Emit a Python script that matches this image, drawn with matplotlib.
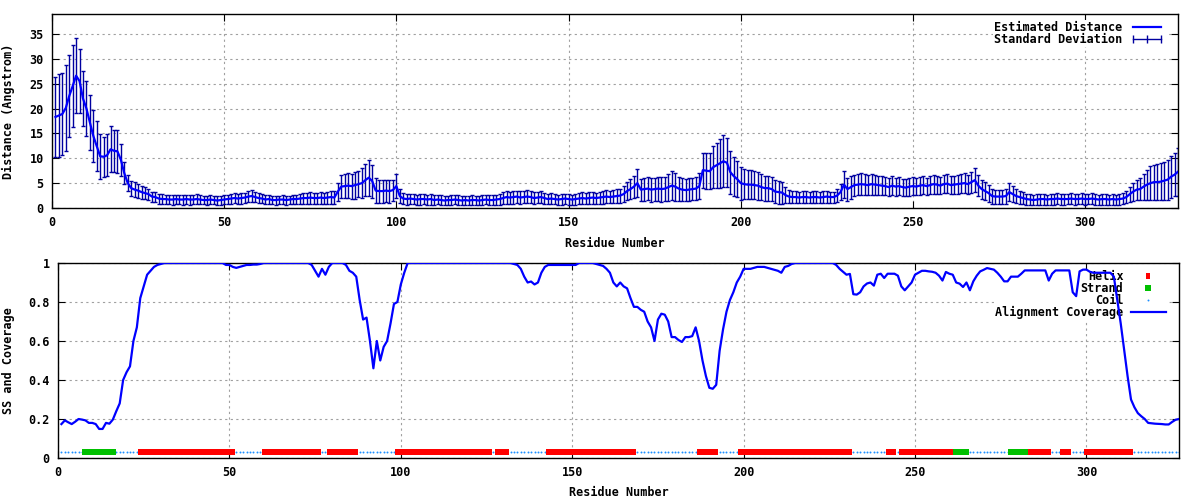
import numpy as np
import matplotlib
matplotlib.use("Agg")
import matplotlib.pyplot as plt
from matplotlib.lines import Line2D
from matplotlib.path import Path

# per-residue values (residues 1..327)
distance = [
    18.3, 18.6, 18.9, 20.1, 22.5, 24.5, 26.6, 25.5, 22.0, 20.0,
    17.2, 14.5, 12.4, 10.4, 10.3, 10.6, 11.8, 11.5, 11.4, 9.7,
    7.0, 5.0, 4.0, 3.7, 3.5, 3.2, 3.0, 2.8, 2.3, 2.2,
    1.9, 1.8, 1.8, 1.7, 1.7, 1.8, 1.7, 1.7, 1.8, 1.7,
    1.7, 1.8, 1.7, 1.6, 1.6, 1.7, 1.6, 1.5, 1.6, 1.7,
    1.8, 1.9, 2.0, 1.9, 2.0, 2.1, 2.3, 2.4, 2.2, 2.0,
    1.9, 1.7, 1.8, 1.6, 1.6, 1.7, 1.7, 1.6, 1.7, 1.8,
    1.8, 1.9, 2.0, 2.0, 2.1, 2.0, 2.0, 2.1, 2.0, 2.1,
    2.2, 2.1, 3.3, 4.3, 4.4, 4.5, 4.4, 4.6, 4.8, 5.0,
    5.6, 6.1, 5.4, 3.5, 3.4, 3.4, 3.5, 3.4, 3.6, 4.4,
    2.4, 1.9, 1.8, 1.9, 1.8, 1.7, 1.8, 1.8, 1.7, 1.8,
    1.6, 1.7, 1.6, 1.5, 1.6, 1.6, 1.7, 1.6, 1.5, 1.6,
    1.5, 1.6, 1.6, 1.5, 1.6, 1.7, 1.6, 1.6, 1.7, 1.8,
    2.0, 2.2, 2.1, 2.2, 2.3, 2.1, 2.2, 2.3, 2.2, 2.0,
    2.1, 2.2, 2.0, 1.8, 1.9, 1.8, 1.7, 1.8, 1.9, 1.8,
    1.7, 1.8, 1.9, 2.0, 1.9, 2.0, 2.1, 2.0, 2.1, 2.2,
    2.3, 2.2, 2.3, 2.4, 2.5, 2.8, 3.4, 3.8, 4.3, 5.0,
    3.7, 3.8, 3.9, 3.7, 3.8, 3.9, 3.8, 3.9, 4.2, 4.5,
    4.3, 3.9, 3.7, 3.6, 3.7, 3.8, 3.9, 4.4, 7.6, 7.5,
    7.4, 8.2, 8.6, 9.0, 9.4, 9.1, 7.2, 6.4, 5.8, 5.0,
    4.8, 4.7, 4.7, 4.6, 4.5, 4.2, 4.0, 4.0, 3.8, 3.3,
    3.2, 3.1, 2.6, 2.3, 2.2, 2.2, 2.1, 2.2, 2.2, 2.1,
    2.2, 2.2, 2.1, 2.2, 2.3, 2.2, 2.2, 2.5, 3.2, 4.7,
    3.8, 4.2, 4.6, 4.7, 4.8, 4.7, 4.6, 4.8, 4.7, 4.6,
    4.5, 4.4, 4.2, 4.5, 4.3, 4.4, 4.2, 4.1, 4.3, 4.4,
    4.3, 4.5, 4.6, 4.4, 4.6, 4.8, 4.7, 4.5, 4.8, 4.9,
    4.6, 4.7, 4.8, 4.9, 5.0, 4.8, 5.2, 5.6, 4.5, 3.8,
    3.4, 3.0, 2.4, 2.3, 2.3, 2.3, 2.4, 3.2, 2.8, 2.4,
    2.2, 2.0, 1.8, 1.7, 1.6, 1.7, 1.8, 1.8, 1.7, 1.8,
    1.8, 1.9, 1.8, 1.8, 1.8, 1.9, 1.8, 1.8, 1.9, 1.8,
    1.8, 1.9, 1.8, 1.7, 1.8, 1.8, 1.7, 1.8, 1.7, 1.8,
    1.9, 2.2, 2.8, 3.3, 3.7, 3.8, 4.3, 4.7, 5.0, 5.2,
    5.2, 5.3, 5.5, 5.7, 6.3, 6.7, 7.3,
]

std_dev = [
    8.0, 8.3, 8.3, 8.7, 8.2, 8.2, 7.6, 6.5, 5.5, 5.5,
    5.5, 5.3, 5.0, 4.5, 4.0, 4.2, 4.6, 4.2, 4.3, 3.2,
    2.2, 1.6, 1.5, 1.5, 1.4, 1.3, 1.2, 1.1, 1.0, 1.0,
    1.0, 1.0, 0.9, 0.9, 1.0, 0.9, 0.9, 1.0, 0.9, 1.0,
    0.9, 1.0, 0.9, 0.8, 0.9, 0.9, 0.8, 0.9, 0.9, 0.9,
    0.9, 1.0, 1.0, 1.0, 1.1, 1.0, 1.1, 1.2, 1.0, 1.0,
    0.9, 0.9, 0.9, 0.8, 0.9, 0.8, 0.9, 0.9, 0.8, 0.9,
    0.9, 1.0, 1.1, 1.1, 1.2, 1.1, 1.1, 1.2, 1.1, 1.2,
    1.3, 1.3, 1.8, 2.3, 2.4, 2.5, 2.5, 2.7, 2.6, 3.0,
    3.2, 3.6, 3.3, 2.5, 2.3, 2.3, 2.2, 2.3, 2.1, 2.4,
    1.4, 1.1, 1.1, 1.0, 1.0, 1.0, 1.1, 1.0, 1.0, 1.1,
    1.0, 0.9, 1.0, 0.9, 0.9, 1.0, 0.9, 1.0, 0.9, 0.9,
    0.9, 1.0, 0.9, 0.9, 1.0, 0.9, 1.0, 1.0, 1.0, 1.1,
    1.2, 1.3, 1.2, 1.3, 1.2, 1.3, 1.2, 1.3, 1.2, 1.2,
    1.1, 1.2, 1.1, 1.0, 1.1, 1.0, 1.0, 1.1, 1.0, 1.1,
    1.0, 1.1, 1.1, 1.2, 1.1, 1.2, 1.2, 1.1, 1.2, 1.3,
    1.3, 1.2, 1.3, 1.4, 1.4, 1.6, 1.8, 2.0, 2.2, 2.8,
    2.2, 2.3, 2.3, 2.4, 2.3, 2.4, 2.5, 2.4, 2.7, 2.9,
    2.8, 2.4, 2.3, 2.2, 2.3, 2.2, 2.3, 2.6, 3.5, 3.6,
    3.6, 4.2, 4.5, 4.9, 5.2, 4.9, 4.3, 3.9, 3.6, 3.3,
    3.0, 2.9, 2.9, 2.8, 2.8, 2.6, 2.5, 2.5, 2.4, 2.3,
    2.3, 2.2, 1.6, 1.3, 1.2, 1.2, 1.1, 1.2, 1.2, 1.1,
    1.2, 1.2, 1.1, 1.2, 1.2, 1.1, 1.1, 1.3, 1.6, 2.7,
    2.3, 2.3, 2.1, 2.1, 2.2, 2.1, 2.0, 2.1, 2.0, 1.9,
    1.9, 1.8, 1.8, 1.9, 1.8, 1.8, 1.7, 1.7, 1.8, 1.8,
    1.7, 1.8, 1.8, 1.7, 1.8, 1.9, 1.8, 1.7, 1.8, 1.9,
    1.8, 1.8, 1.9, 1.9, 2.0, 1.9, 2.1, 2.4, 2.1, 1.9,
    1.8, 1.7, 1.5, 1.4, 1.4, 1.4, 1.5, 1.8, 1.6, 1.4,
    1.3, 1.2, 1.1, 1.1, 1.0, 1.1, 1.1, 1.1, 1.0, 1.1,
    1.1, 1.1, 1.1, 1.1, 1.0, 1.1, 1.1, 1.0, 1.1, 1.1,
    1.0, 1.1, 1.1, 1.0, 1.1, 1.1, 1.0, 1.1, 1.0, 1.1,
    1.1, 1.2, 1.5, 1.8, 2.0, 2.2, 2.6, 3.0, 3.4, 3.5,
    3.6, 3.7, 3.8, 4.0, 4.2, 4.3, 4.8,
]

coverage = [
    0.174, 0.193, 0.183, 0.174, 0.186, 0.200, 0.197, 0.193, 0.180, 0.180,
    0.174, 0.149, 0.149, 0.180, 0.176, 0.197, 0.240, 0.280, 0.400, 0.440,
    0.470, 0.600, 0.670, 0.820, 0.880, 0.940, 0.960, 0.980, 0.990, 0.995,
    1.0, 1.0, 1.0, 1.0, 1.0, 1.0, 1.0, 1.0, 1.0, 1.0,
    1.0, 1.0, 1.0, 1.0, 1.0, 1.0, 1.0, 1.0, 0.990, 0.990,
    0.980, 0.975, 0.980, 0.985, 0.990, 0.990, 0.992, 0.992, 0.995, 1.0,
    1.0, 1.0, 1.0, 1.0, 1.0, 1.0, 1.0, 1.0, 1.0, 1.0,
    1.0, 1.0, 1.0, 0.990, 0.960, 0.930, 0.970, 0.940, 0.980, 1.0,
    1.0, 1.0, 1.0, 0.990, 0.960, 0.950, 0.930, 0.810, 0.710, 0.720,
    0.600, 0.460, 0.600, 0.500, 0.570, 0.600, 0.690, 0.790, 0.800, 0.890,
    0.950, 1.0, 1.0, 1.0, 1.0, 1.0, 1.0, 1.0, 1.0, 1.0,
    1.0, 1.0, 1.0, 1.0, 1.0, 1.0, 1.0, 1.0, 1.0, 1.0,
    1.0, 1.0, 1.0, 1.0, 1.0, 1.0, 1.0, 1.0, 1.0, 1.0,
    1.0, 1.0, 0.995, 0.990, 0.970, 0.930, 0.900, 0.905, 0.890, 0.900,
    0.950, 0.980, 0.990, 0.990, 0.990, 0.990, 0.990, 0.990, 0.990, 0.990,
    0.990, 1.0, 1.0, 1.0, 1.0, 1.0, 0.995, 0.990, 0.985, 0.970,
    0.950, 0.900, 0.880, 0.900, 0.880, 0.870, 0.820, 0.775, 0.775, 0.760,
    0.750, 0.700, 0.670, 0.600, 0.710, 0.740, 0.735, 0.700, 0.620, 0.620,
    0.605, 0.595, 0.620, 0.620, 0.625, 0.670, 0.600, 0.500, 0.420, 0.360,
    0.355, 0.375, 0.550, 0.660, 0.750, 0.810, 0.850, 0.900, 0.930, 0.970,
    0.970, 0.970, 0.975, 0.980, 0.980, 0.980, 0.975, 0.970, 0.965, 0.960,
    0.950, 0.980, 0.985, 0.995, 1.0, 1.0, 1.0, 1.0, 1.0, 1.0,
    1.0, 1.0, 1.0, 1.0, 1.0, 1.0, 0.990, 0.970, 0.955, 0.940,
    0.944, 0.840, 0.838, 0.850, 0.880, 0.895, 0.900, 0.884, 0.940, 0.945,
    0.923, 0.945, 0.945, 0.945, 0.935, 0.880, 0.860, 0.880, 0.900, 0.940,
    0.950, 0.960, 0.960, 0.957, 0.955, 0.950, 0.935, 0.910, 0.954, 0.945,
    0.940, 0.900, 0.894, 0.877, 0.900, 0.860, 0.906, 0.935, 0.957, 0.965,
    0.974, 0.970, 0.966, 0.950, 0.930, 0.906, 0.906, 0.930, 0.930, 0.930,
    0.945, 0.962, 0.962, 0.962, 0.962, 0.962, 0.962, 0.962, 0.910, 0.945,
    0.962, 0.962, 0.962, 0.962, 0.962, 0.850, 0.830, 0.957, 0.966, 0.966,
    0.955, 0.950, 0.950, 0.950, 0.950, 0.950, 0.950, 0.930, 0.810, 0.690,
    0.556, 0.420, 0.300, 0.260, 0.230, 0.214, 0.200, 0.180, 0.178, 0.176,
    0.175, 0.174, 0.172, 0.172, 0.185, 0.196, 0.200,
]

# secondary structure as runs: H helix, E strand, C coil
ss_runs = [
    ("C", 7), ("E", 9), ("C", 7), ("H", 28), ("C", 8), ("H", 17), ("C", 2),
    ("H", 9), ("C", 11), ("H", 28), ("C", 1), ("H", 4), ("C", 11), ("H", 26),
    ("C", 18), ("H", 6), ("C", 6), ("H", 33), ("C", 10), ("H", 3), ("C", 1),
    ("H", 16), ("E", 4), ("C", 12), ("E", 5), ("H", 7), ("C", 3), ("H", 3),
    ("C", 4), ("H", 14), ("C", 14),
]

residues = np.arange(1, len(distance) + 1)
ss = "".join(kind * n for kind, n in ss_runs)
ss = np.array(list(ss))
ss_level = 0.03

plt.rcParams['font.family'] = ['DejaVu Sans Mono']
plt.rcParams['font.weight'] = 'bold'
plt.rcParams['font.size'] = 8.5

grid_style = dict(color='#a0a0a0', linestyle=(0, (2, 3)), linewidth=0.8)

# narrow upright box for helix points (about 4 x 6 px)
helix_box = Path([(-0.33, -0.5), (0.33, -0.5), (0.33, 0.5), (-0.33, 0.5), (-0.33, -0.5)])
helix_style = dict(linestyle='none', marker=helix_box, markersize=4.4, markeredgewidth=0, color='#ff0000')
strand_style = dict(linestyle='none', marker='s', markersize=5.0, markeredgewidth=0, color='#00c000')
coil_style = dict(linestyle='none', marker='o', markersize=1.4, markeredgewidth=0, color='#1e90ff')


def style_axes(ax):
    ax.tick_params(direction='in', top=True, right=True, length=5, width=0.8, pad=6)
    for sp in ax.spines.values():
        sp.set_linewidth(1.0)
    ax.grid(True, **grid_style)
    ax.set_axisbelow(True)


legend_opts = dict(loc='upper right', markerfirst=False, frameon=True, fancybox=False,
                   edgecolor='none', facecolor='white', framealpha=1.0,
                   handlelength=3.0, handletextpad=0.6, labelspacing=-0.08,
                   borderpad=0.1, borderaxespad=0.5)

fig = plt.figure(figsize=(12, 5), dpi=100)

# top panel: estimated distance with standard deviation
ax1 = fig.add_axes([52 / 1200, 1 - 208 / 500, 1126 / 1200, 194 / 500])
ax1.errorbar(residues, distance, yerr=std_dev, fmt='none', ecolor='#0000a0',
             elinewidth=1.0, capsize=1.6, capthick=1.0, zorder=2)
ax1.plot(residues, distance, color='#0000ff', linewidth=1.6, zorder=3)
ax1.set_xlim(0, 327)
ax1.set_ylim(0, 39)
ax1.set_xticks(np.arange(0, 301, 50))
ax1.set_yticks(np.arange(0, 36, 5))
style_axes(ax1)
ax1.set_xlabel('Residue Number', fontweight='bold')
ax1.xaxis.set_label_coords(0.5, -0.149)
ax1.xaxis.label.set_va('top')
ax1.set_ylabel('Distance (Angstrom)', fontweight='bold')
ax1.yaxis.set_label_coords(-0.033, 0.5)

h1 = [Line2D([], [], color='#0000ff', linewidth=1.6),
      Line2D([], [], color='#0000a0', linewidth=1.0, marker='|', markersize=6,
             markeredgewidth=1.0)]
leg1 = ax1.legend(h1, ['Estimated Distance', 'Standard Deviation'], numpoints=3,
                  bbox_to_anchor=(1 - 6 / 1126, 1), **legend_opts)
leg1.set_zorder(1)

# bottom panel: secondary structure and alignment coverage
ax2 = fig.add_axes([58 / 1200, 1 - 458 / 500, 1121 / 1200, 195 / 500])
helix = ss == "H"
strand = ss == "E"
coil = ss == "C"
ax2.plot(residues[coil], np.full(coil.sum(), ss_level), zorder=2, **coil_style)
ax2.plot(residues[helix], np.full(helix.sum(), ss_level), zorder=2, **helix_style)
ax2.plot(residues[strand], np.full(strand.sum(), ss_level), zorder=2, **strand_style)
ax2.plot(residues, coverage, color='#0000ff', linewidth=1.6, zorder=3)
ax2.set_xlim(0, 327)
ax2.set_ylim(0, 1)
ax2.set_xticks(np.arange(0, 301, 50))
ax2.set_yticks([0, 0.2, 0.4, 0.6, 0.8, 1.0])
ax2.set_yticklabels(['0', '0.2', '0.4', '0.6', '0.8', '1'])
style_axes(ax2)
ax2.set_xlabel('Residue Number', fontweight='bold')
ax2.xaxis.set_label_coords(0.5, -0.144)
ax2.xaxis.label.set_va('top')
ax2.set_ylabel('SS and Coverage', fontweight='bold')
ax2.yaxis.set_label_coords(-0.0384, 0.5)

h2 = [Line2D([], [], **helix_style),
      Line2D([], [], **strand_style),
      Line2D([], [], **coil_style),
      Line2D([], [], color='#0000ff', linewidth=1.6)]
leg2 = ax2.legend(h2, ['Helix', 'Strand', 'Coil', 'Alignment Coverage'], numpoints=1,
                  bbox_to_anchor=(1 - 6 / 1121, 1), **legend_opts)
leg2.set_zorder(1)

fig.savefig('out.png', dpi=100)
